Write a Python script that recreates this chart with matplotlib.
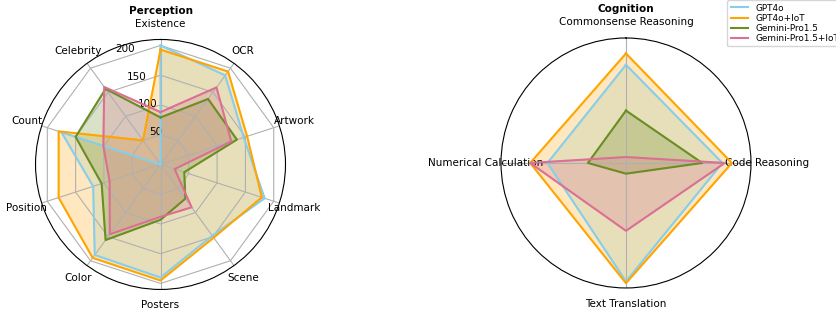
import numpy as np
import matplotlib
matplotlib.use("Agg")
import matplotlib.pyplot as plt

# perception subtasks, clockwise from top
perception_labels = ["Existence", "OCR", "Artwork", "Landmark", "Scene",
                     "Posters", "Color", "Position", "Count", "Celebrity"]
perc_gpt4o = [200, 185, 147, 184, 148, 190, 188, 119, 175, 0]
perc_gpt4o_iot = [193, 193, 153, 179, 152, 195, 194, 180, 180, 50]
perc_gemini = [79, 136, 135, 42, 71, 93, 157, 104, 150, 157]
perc_gemini_iot = [88, 160, 125, 25, 89, 88, 145, 90, 101, 161]

# cognition subtasks, clockwise from top
cognition_labels = ["Commonsense Reasoning", "Code Reasoning",
                    "Text Translation", "Numerical Calculation"]
cog_gpt4o = [165, 162, 199, 132]
cog_gpt4o_iot = [184, 178, 202, 161]
cog_gemini = [88, 128, 18, 64]
cog_gemini_iot = [10, 166, 114, 161]

model_names = ["GPT4o", "GPT4o+IoT", "Gemini-Pro1.5", "Gemini-Pro1.5+IoT"]
colors = ["skyblue", "orange", "olivedrab", "palevioletred"]
rticks = [50, 100, 150, 200]


def radar(ax, labels, series, title, rgrid=None):
    n = len(labels)
    angles = np.linspace(0, 2 * np.pi, n, endpoint=False)
    a = np.r_[angles, angles[0]]
    ax.set_theta_offset(np.pi / 2)
    ax.set_theta_direction(-1)
    for name, vals, c in zip(model_names, series, colors):
        v = np.r_[vals, vals[0]]
        ax.plot(a, v, color=c, lw=1.5, label=name)
        ax.fill(a, v, color=c, alpha=0.25)
    ax.set_thetagrids(np.degrees(angles), labels, fontsize=7.5)
    ax.tick_params(axis="x", pad=0.8)
    ax.set_ylim(0, 210)
    if rgrid:
        ax.set_rgrids(rgrid, angle=337.5, fontsize=7.5)
        ax.yaxis.grid(False)
        # polygon shaped grid like the radar example
        for r in rgrid:
            ax.plot(a, [r] * (n + 1), color="#b0b0b0", lw=0.8, zorder=1.5)
    else:
        ax.set_yticks([])
    ax.set_title(title, fontsize=7.5, fontweight="bold", pad=3.5)


fig = plt.figure(figsize=(8.36, 3.15), dpi=100)
ax1 = fig.add_axes([0.0425, 0.0794, 0.299, 0.797], projection="polar")
ax2 = fig.add_axes([0.5993, 0.0841, 0.299, 0.797], projection="polar")

radar(ax1, perception_labels,
      [perc_gpt4o, perc_gpt4o_iot, perc_gemini, perc_gemini_iot],
      "Perception", rticks)
radar(ax2, cognition_labels,
      [cog_gpt4o, cog_gpt4o_iot, cog_gemini, cog_gemini_iot],
      "Cognition")

ax2.legend(loc="upper left", bbox_to_anchor=(727 / 836, 1.0),
           bbox_transform=fig.transFigure, borderaxespad=0, fontsize=6.4,
           labelspacing=0.12)

fig.savefig("out.png", dpi=100)
